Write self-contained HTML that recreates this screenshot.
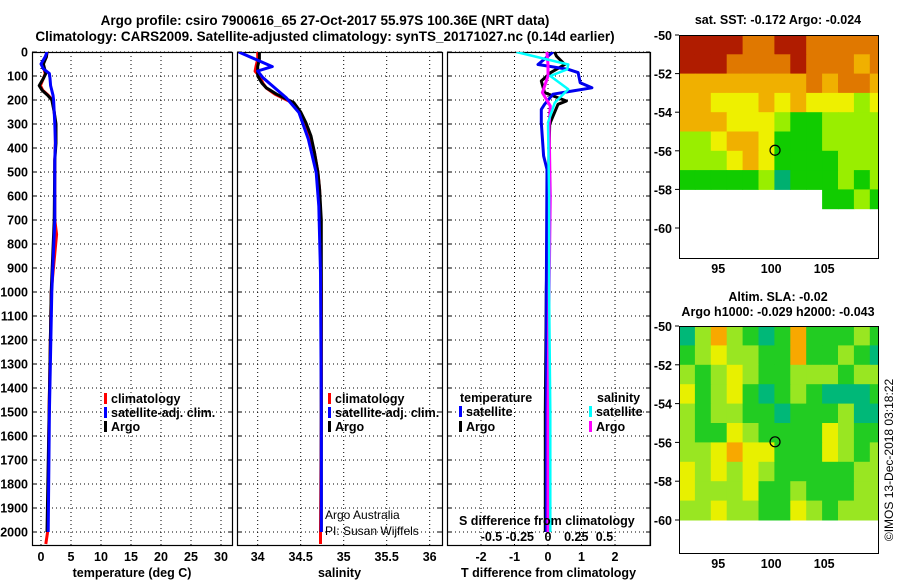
<!DOCTYPE html>
<html><head><meta charset="utf-8"><style>
body{margin:0;background:#fff;}
svg{display:block;font-family:"Liberation Sans",Arial,sans-serif;}
.b{font-weight:bold;font-size:12.5px;}
.t{font-weight:bold;font-size:13.5px;}
.n{font-size:12px;}
</style></head><body>
<svg id="c" width="900" height="580" viewBox="0 0 900 580">
<text class="t" x="325" y="25" text-anchor="middle">Argo profile: csiro 7900616_65 27-Oct-2017 55.97S 100.36E (NRT data)</text>
<text class="t" x="325" y="41" text-anchor="middle">Climatology: CARS2009. Satellite-adjusted climatology: synTS_20171027.nc (0.14d earlier)</text>
</svg>
<script>
// ---- depth axis ----
const depthTicks=[0,100,200,300,400,500,600,700,800,900,1000,1100,1200,1300,1400,1500,1600,1700,1800,1900,2000];
// ---- temperature panel ----
const tempTicks=[0,5,10,15,20,25,30];
const tClimDepth=[0,20,50,70,90,110,140,160,180,200,250,300,380,450,700,760,1000,1500,2000,2050];
const tClim=[1.0,0.9,0.3,0.5,0.7,0.4,-0.1,0.3,1.2,1.9,2.2,2.4,2.4,2.3,2.3,2.6,1.7,1.35,1.1,0.8];
const tSatDepth=[0,20,50,70,90,110,140,160,180,200,250,300,380,450,700,1000,1500,2000];
const tSat=[1.0,0.7,0.0,0.4,1.4,1.5,1.6,1.8,2.0,2.1,2.2,2.3,2.4,2.3,2.3,1.8,1.4,1.2];
const tArgoDepth=[0,20,50,70,90,110,140,160,180,200,250,300,380,450,700,1000,1500,2000];
const tArgo=[1.0,0.9,0.4,0.6,0.8,0.4,-0.3,0.2,1.1,1.8,2.2,2.5,2.5,2.3,2.2,1.7,1.35,1.0];
// ---- salinity panel ----
const salTicks=[34,34.5,35,35.5,36];
const sClimDepth=[0,30,60,80,100,130,150,176,211,250,294,350,419,500,572,700,1000,1500,2000,2050];
const sClim=[34.0,34.0,33.98,33.97,34.02,34.06,34.1,34.2,34.4,34.48,34.55,34.61,34.66,34.7,34.72,34.73,34.74,34.74,34.73,34.73];
const sSatDepth=[0,61,79,107,150,190,253,364,503,642,920,1500,2000];
const sSat=[33.78,34.17,34.0,34.06,34.2,34.33,34.48,34.59,34.68,34.71,34.73,34.74,34.74];
const sArgoDepth=[0,30,60,80,100,130,149,176,211,250,294,350,419,500,572,700,1000,1500,2000];
const sArgo=[34.02,34.02,34.0,34.0,34.0,34.05,34.1,34.22,34.42,34.5,34.56,34.62,34.66,34.7,34.72,34.74,34.74,34.74,34.74];
// ---- difference panel ----
const tdTicks=[-2,-1,0,1,2];
const sdTicks=[-0.5,-0.25,0,0.25,0.5];
const sdTickLabels=["-0.5","-0.25","0","0.25","0.5"];
const dTSatDepth=[0,52,72,86,128,149,162,176,218,239,294,433,489,1000,2000];
const dTSat=[0.15,-0.3,0.6,0.9,0.96,1.31,0.75,0.15,-0.1,-0.2,-0.2,-0.13,-0.03,-0.05,-0.05];
const dTArgoDepth=[0,17,52,86,121,169,204,218,300,600,1000,1500,2000];
const dTArgo=[0.2,0.25,0.5,0.08,-0.2,-0.1,0.55,0.3,0.05,0.0,-0.05,-0.08,-0.08];
const dSSatDepth=[0,52,72,100,155,211,294,600,1000,1500,2000];
const dSSat=[-0.28,0.18,0.17,0.02,0.18,0.06,0.0,0.01,0.01,0.02,0.02];
const dSArgoDepth=[0,52,100,169,225,308,600,1000,1500,2000];
const dSArgo=[-0.01,0.0,0.0,-0.05,0.02,0.01,0.02,0.01,0.0,0.0];
// ---- maps ----
const lonTicks=[95,100,105];
const latTicks=[-50,-52,-54,-56,-58,-60];
const mapLons=[91.3,92.8,94.3,95.8,97.3,98.8,100.3,101.8,103.3,104.8,106.3,107.8,109.3];
const mapLats=[-50,-51,-52,-53,-54,-55,-56,-57,-58,-59];
const sstRows=[
[6,6,6,6,5,5,6,6,5,5,5,5,5],
[6,6,6,5,5,5,5,6,5,5,5,4,5],
[4,4,4,4,4,4,4,4,5,4,5,5,4],
[4,4,3,3,3,4,3,4,3,3,3,2,3],
[4,4,4,3,3,3,2,1,1,2,2,2,2],
[2,2,3,4,4,3,1,1,1,2,2,2,2],
[2,2,2,3,4,3,1,1,1,1,2,2,2],
[1,1,1,1,1,2,0,1,1,1,2,1,2],
[-1,-1,-1,-1,-1,-1,-1,-1,-1,1,1,2,1],
[-1,-1,-1,-1,-1,-1,-1,-1,-1,-1,-1,-1,-1]];
const slaRows=[
[0,2,4,2,1,0,1,4,1,1,1,2,1],
[1,2,3,2,2,1,1,4,1,1,2,1,0],
[2,1,2,3,2,1,1,2,2,2,1,2,2],
[3,1,2,3,1,0,1,2,1,0,0,0,1],
[2,1,2,2,1,1,0,1,1,1,2,0,0],
[2,1,1,3,2,1,1,1,1,3,2,1,1],
[2,2,3,4,3,3,1,1,1,3,2,1,2],
[3,2,3,2,3,2,1,1,1,1,1,2,2],
[3,2,2,2,3,1,1,2,1,1,1,2,2],
[2,2,3,2,2,1,1,3,2,1,2,2,2]];
const argoPos=[100.36,-55.97];

const sstColors=["#00b070","#11cc00","#99ee00","#eef000","#f0b000","#e07800","#b01c00"];
const slaColors=["#00b878","#22cc22","#99e622","#e8f000","#f8a800"];
const NS="http://www.w3.org/2000/svg";
const svg=document.getElementById('c');
function el(t,a,p){const e=document.createElementNS(NS,t);for(const k in a)e.setAttribute(k,a[k]);(p||svg).appendChild(e);return e;}
function txt(s,x,y,cls,anchor,p){const e=el('text',{x:x,y:y,class:cls,'text-anchor':anchor||'middle'},p);e.textContent=s;return e;}

const TOP=52,BOT=545;
const yD=d=>TOP+d*0.24;
const panels=[
 {id:'temp',x0:32,x1:232,sx:v=>41+v*6,ticks:tempTicks,label:'temperature (deg C)'},
 {id:'sal',x0:237,x1:442,sx:v=>257.7+(v-34)*86,ticks:salTicks,label:'salinity'},
 {id:'diff',x0:447,x1:650,sx:v=>548+v*33.5,ticks:tdTicks,label:'T difference from climatology'}];
const sxS=v=>548+v*113;

depthTicks.forEach(d=>{
 const t=txt(String(d),28,yD(d)+4.5,'b','end');
 
 
});

panels.forEach((P,i)=>{
 const g=el('g',{});
 
 
 const cp=el('clipPath',{id:'cp'+i},g);
 el('rect',{x:P.x0,y:TOP,width:P.x1-P.x0,height:BOT-TOP},cp);
 depthTicks.forEach(d=>{
  const l=el('line',{x1:P.x0,x2:P.x1,y1:yD(d),y2:yD(d),stroke:'#000','stroke-width':1,'stroke-dasharray':'1 3'},g);
  
  
  el('line',{x1:P.x0,x2:P.x0+4,y1:yD(d),y2:yD(d),stroke:'#000'},g);
  el('line',{x1:P.x1,x2:P.x1-4,y1:yD(d),y2:yD(d),stroke:'#000'},g);
 });
 P.ticks.forEach(v=>{
  const x=P.sx(v);
  const l=el('line',{x1:x,x2:x,y1:TOP,y2:BOT,stroke:'#000','stroke-width':1,'stroke-dasharray':'1 3'},g);
  
  
  const t=txt(String(v),x,561,'b','middle',g);
  
  
 });
 const r=el('rect',{x:P.x0+0.5,y:TOP+0.5,width:P.x1-P.x0,height:BOT-TOP,fill:'none',stroke:'#000','stroke-width':1.2},g);
 
 
 const xl=txt(P.label,(P.x0+P.x1)/2,577,'b','middle',g);
 
 
 P.g=g;
});

function line(pi,depths,vals,sx,color,name,w){
 const pts=depths.map((d,k)=>sx(vals[k]).toFixed(1)+','+yD(d).toFixed(1)).join(' ');
 const p=el('polyline',{points:pts,fill:'none',stroke:color,'stroke-width':w||3,'clip-path':'url(#cp'+pi+')','stroke-linejoin':'round'},panels[pi].g);
 
 
}
line(0,tClimDepth,tClim,panels[0].sx,'#ff0000','temp-climatology-line');
line(0,tArgoDepth,tArgo,panels[0].sx,'#000000','temp-argo-line');
line(0,tSatDepth,tSat,panels[0].sx,'#0000ff','temp-satellite-line');
line(1,sClimDepth,sClim,panels[1].sx,'#ff0000','sal-climatology-line');
line(1,sArgoDepth,sArgo,panels[1].sx,'#000000','sal-argo-line');
line(1,sSatDepth,sSat,panels[1].sx,'#0000ff','sal-satellite-line');
line(2,dTArgoDepth,dTArgo,panels[2].sx,'#000000','tdiff-argo-line');
line(2,dTSatDepth,dTSat,panels[2].sx,'#0000ee','tdiff-satellite-line');
line(2,dSArgoDepth,dSArgo,sxS,'#ff00ff','sdiff-argo-line');
line(2,dSSatDepth,dSSat,sxS,'#00ffff','sdiff-satellite-line',2.5);

sdTicks.forEach((v,k)=>{
 const t=txt(sdTickLabels[k],sxS(v),541,'b','middle');
 
 
});
function legend(x,y,color,label,name){
 const g=el('g',{});
 
 
 el('rect',{x:x,y:y-10,width:3,height:11,fill:color},g);
 txt(label,x+7,y,'b','start',g);
}
legend(104,403,'#ff0000','climatology','legend-climatology');
legend(104,417,'#0000ff','satellite-adj. clim.','legend-satellite-adj');
legend(104,431,'#000000','Argo','legend-argo');
legend(328,403,'#ff0000','climatology','legend-climatology-sal');
legend(328,417,'#0000ff','satellite-adj. clim.','legend-satellite-adj-sal');
legend(328,431,'#000000','Argo','legend-argo-sal');
const lt=txt('temperature',460,402,'b','start');
const ls=txt('salinity',597,402,'b','start');
legend(459,416,'#0000ff','satellite','legend-temp-satellite');
legend(459,431,'#000000','Argo','legend-temp-argo');
legend(589,416,'#00ffff','satellite','legend-sal-satellite');
legend(589,431,'#ff00ff','Argo','legend-sal-argo');
const sdt=txt('S difference from climatology',459,525,'b','start');
const a1=txt('Argo Australia',325,519,'n','start');
const a2=txt('PI: Susan Wijffels',325,535,'n','start');

function map(M){
 const g=el('g',{});
 
 
 const X0=679,X1=878,lon0=91.3,pxLon=10.6;
 const mx=l=>X0+(l-lon0)*pxLon, my=la=>M.y50+(-50-la)*M.pxLat;
 const cp=el('clipPath',{id:'cp'+M.name},g);
 el('rect',{x:X0,y:M.top,width:X1-X0,height:M.bot-M.top},cp);
 const cg=el('g',{'clip-path':'url(#cp'+M.name+')'},g);
 M.rows.forEach((row,r)=>row.forEach((v,c)=>{
  if(v<0)return;
  const x=mx(mapLons[c]),y=my(mapLats[r]);
  const cell=el('rect',{x:x,y:y,width:mx(mapLons[c]+1.5)-x+0.5,height:M.pxLat+0.5,fill:M.colors[v]},cg);
  
  
 }));
 const ci=el('circle',{cx:mx(argoPos[0]),cy:my(argoPos[1]),r:5,fill:'none',stroke:'#000','stroke-width':1.2},g);
 
 
 el('rect',{x:X0+0.5,y:M.top+0.5,width:X1-X0,height:M.bot-M.top,fill:'none',stroke:'#000'},g);
 latTicks.forEach(la=>{
  const t=txt(String(la),672,my(la)+5,'b','end',g);
  
  
  el('line',{x1:X0,x2:X0-4,y1:my(la),y2:my(la),stroke:'#000'},g);
 });
 lonTicks.forEach(lo=>{
  const t=txt(String(lo),mx(lo),M.bot+15,'b','middle',g);
  
  
 });
 M.titles.forEach((s,k)=>{
  const t=txt(s,778,M.titleY+k*15,'b','middle',g);
  
  
 });
}
map({name:'sst-map',y50:35,pxLat:19.3,top:35,bot:258,rows:sstRows,colors:sstColors,titles:['sat. SST: -0.172 Argo: -0.024'],titleY:24});
map({name:'sla-map',y50:326,pxLat:19.4,top:326,bot:553,rows:slaRows,colors:slaColors,titles:['Altim. SLA: -0.02','Argo h1000: -0.029 h2000: -0.043'],titleY:301});
el('line',{x1:650,x2:650,y1:52,y2:545,stroke:'#000'});
const st=txt('©IMOS 13-Dec-2018 03:18:22',0,0,'n','middle');
st.setAttribute('transform','translate(893,460) rotate(-90)');


</script>
</body></html>
